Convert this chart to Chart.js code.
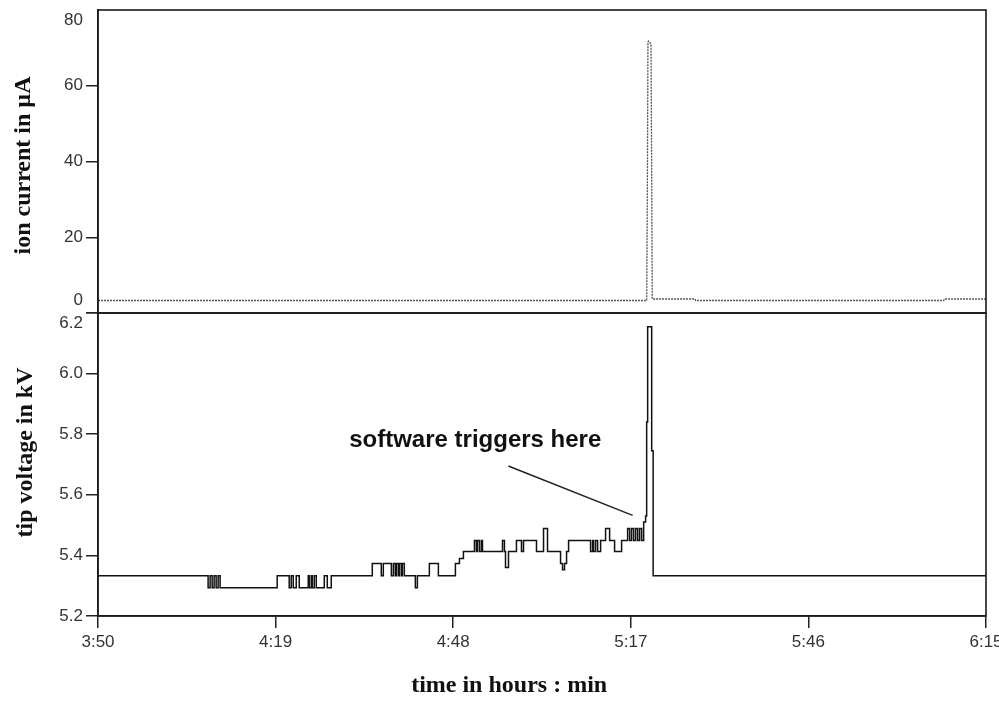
<!DOCTYPE html>
<html>
<head>
<meta charset="utf-8">
<script src="https://cdn.jsdelivr.net/npm/chart.js@4"></script>
<style>
html,body{margin:0;padding:0;background:#fff;}
#wrap{width:999px;height:709px;position:relative;}
</style>
</head>
<body>
<div id="wrap"><canvas id="c"></canvas></div>
<script>
// ---- data (time in minutes after 3:50) ----
const startMinutes = 230; // 3:50
const xTickStep = 29;
const xMax = 145;

const ionTimes   = [0, 89.6, 89.72, 89.8, 89.9, 90.3, 90.4, 90.5, 97.5, 97.6, 138.1, 138.2, 145];
const ionCurrent = [3.3, 3.3, 38, 71.5, 71.8, 71.0, 40, 3.7, 3.7, 3.3, 3.3, 3.7, 3.7];

const tipTimes = [0, 17.98, 18.31, 18.64, 18.96, 19.29, 19.62, 19.94,
  29.26, 31.22, 31.55, 31.88, 32.37, 32.86, 34.33, 34.49, 34.82, 34.98, 35.31, 35.64,
  36.95, 37.44, 38.09, 44.79, 46.26, 46.59, 47.90, 48.23, 48.55, 48.72, 49.04, 49.21,
  49.53, 49.70, 50.02, 51.82, 52.15, 54.11, 55.58, 58.36, 59.02, 59.67, 61.47, 61.79,
  61.96, 62.29, 62.61, 62.78, 66.05, 66.37, 66.54, 67.03, 68.33, 69.15, 69.48, 71.60,
  72.75, 73.40, 75.53, 75.85, 76.18, 76.51, 76.84, 80.43, 80.76, 80.92, 81.25, 81.58,
  82.07, 82.88, 83.54, 84.35, 85.50, 86.48, 86.81, 87.13, 87.46, 87.79, 88.12, 88.44,
  88.77, 89.10, 89.42, 89.59, 89.75, 90.41, 90.65, 145];
const tipVoltage = [5.333, 5.293, 5.333, 5.293, 5.333, 5.293, 5.333, 5.293,
  5.333, 5.293, 5.333, 5.293, 5.333, 5.293, 5.333, 5.293, 5.333, 5.293, 5.333, 5.293,
  5.333, 5.293, 5.333, 5.373, 5.333, 5.373, 5.333, 5.373, 5.333, 5.373, 5.333, 5.373,
  5.333, 5.373, 5.333, 5.293, 5.333, 5.373, 5.333, 5.373, 5.39, 5.413, 5.449, 5.413,
  5.449, 5.413, 5.449, 5.413, 5.449, 5.413, 5.36, 5.413, 5.449, 5.413, 5.449, 5.413,
  5.489, 5.413, 5.373, 5.353, 5.373, 5.413, 5.449, 5.413, 5.449, 5.413, 5.449, 5.413,
  5.449, 5.489, 5.449, 5.413, 5.449, 5.489, 5.449, 5.489, 5.449, 5.489, 5.449, 5.489,
  5.449, 5.51, 5.53, 5.84, 6.155, 5.745, 5.333, 5.333];

const ionTicks = [0, 20, 40, 60, 80];
const tipTicks = [5.2, 5.4, 5.6, 5.8, 6.0, 6.2];

const ionTitle = 'ion current in \u00B5A';
const tipTitle = 'tip voltage in kV';
const xTitle = 'time in hours : min';
const noteText = 'software triggers here';
const noteTextPos = [61.6, 5.781];
const noteLine = [[67.0, 5.695], [87.3, 5.532]];

function fmtTime(v){
  const m = startMinutes + v;
  const h = Math.floor(m/60), mm = Math.round(m - h*60);
  return h + ':' + String(mm).padStart(2,'0');
}

const ionData = ionTimes.map((t,i)=>({x:t, y:ionCurrent[i]}));
const tipData = tipTimes.map((t,i)=>({x:t, y:tipVoltage[i]}));

const tickFont = {family:"'Liberation Sans', Arial, sans-serif", size:17};
const serif = "'Liberation Serif', 'Times New Roman', serif";

const framePlugin = {
  id:'frame',
  afterDraw(chart){
    const ctx = chart.ctx, ca = chart.chartArea;
    const sIon = chart.scales.yIon, sTip = chart.scales.yTip, sx = chart.scales.x;
    ctx.save();
    ctx.strokeStyle = '#1a1a1a';
    ctx.lineWidth = 1.6;
    [sIon, sTip].forEach(s=>{
      ctx.strokeRect(ca.left, s.top, ca.right-ca.left, s.bottom-s.top);
    });
    // y tick labels (end labels kept inside their panel)
    ctx.fillStyle = '#333';
    ctx.font = tickFont.size + 'px ' + tickFont.family;
    ctx.textAlign = 'right';
    ctx.textBaseline = 'middle';
    const drawLabels = (s, ticks, isBottom, dec) => {
      ticks.forEach(v=>{
        let y = s.getPixelForValue(v);
        if (v === s.max) y += 10;
        else if (v === s.min && !isBottom) y -= 13;
        ctx.fillText(dec ? v.toFixed(dec) : String(v), ca.left - 15, y);
      });
    };
    drawLabels(sIon, ionTicks, false, 0);
    drawLabels(sTip, tipTicks, true, 1);
    // axis titles
    ctx.fillStyle = '#111';
    ctx.font = 'bold 24px ' + serif;
    ctx.textAlign = 'center';
    ctx.textBaseline = 'middle';
    ctx.fillText(xTitle, ca.left + (ca.right-ca.left)*0.463, chart.height - 23);
    const vTitle = (txt, x, y) => {
      ctx.save(); ctx.translate(x, y); ctx.rotate(-Math.PI/2); ctx.fillText(txt, 0, 0); ctx.restore();
    };
    vTitle(ionTitle, 24, (sIon.top + sIon.bottom)/2 + 4);
    vTitle(tipTitle, 26, (sTip.top + sTip.bottom)/2 - 12);
    // annotation
    ctx.font = "bold 24px 'Liberation Sans', Arial, sans-serif";
    ctx.fillStyle = '#111';
    ctx.fillText(noteText, sx.getPixelForValue(noteTextPos[0]), sTip.getPixelForValue(noteTextPos[1]));
    ctx.beginPath();
    ctx.lineWidth = 1.5;
    ctx.strokeStyle = '#222';
    ctx.moveTo(sx.getPixelForValue(noteLine[0][0]), sTip.getPixelForValue(noteLine[0][1]));
    ctx.lineTo(sx.getPixelForValue(noteLine[1][0]), sTip.getPixelForValue(noteLine[1][1]));
    ctx.stroke();
    ctx.restore();
  }
};

new Chart(document.getElementById('c'), {
  type:'line',
  data:{
    datasets:[
      {label:'ion current', data:ionData, yAxisID:'yIon', borderColor:'#555', borderWidth:1.3,
       borderDash:[2,1], pointRadius:0, tension:0, fill:false},
      {label:'tip voltage', data:tipData, yAxisID:'yTip', borderColor:'#111', borderWidth:1.5,
       pointRadius:0, stepped:'before', fill:false}
    ]
  },
  options:{
    responsive:true, maintainAspectRatio:false, animation:false,
    layout:{padding:{left:0, right:13, top:10, bottom:0}},
    plugins:{legend:{display:false}, tooltip:{enabled:false}},
    scales:{
      x:{type:'linear', min:0, max:xMax,
         ticks:{stepSize:xTickStep, callback:v=>fmtTime(v), font:tickFont, color:'#333', padding:4, maxRotation:0, autoSkip:false},
         grid:{drawOnChartArea:false, drawTicks:true, tickLength:12, color:'#222', lineWidth:1.5},
         border:{display:true, color:'#222', width:1.6},
         afterFit:s=>{s.height = 93; s.paddingLeft = 0; s.paddingRight = 0;}
      },
      yTip:{type:'linear', position:'left', stack:'panels', stackWeight:1, min:5.2, max:6.2,
         afterBuildTicks:s=>{s.ticks = tipTicks.map(v=>({value:v}));},
         ticks:{display:false},
         grid:{drawOnChartArea:false, drawTicks:true, tickLength:12, lineWidth:1.5, color:'#222'},
         border:{display:true, color:'#222', width:1.6},
         title:{display:false},
         afterFit:s=>{s.width = 98;}
      },
      yIon:{type:'linear', position:'left', stack:'panels', stackWeight:1, min:0, max:80,
         afterBuildTicks:s=>{s.ticks = ionTicks.map(v=>({value:v}));},
         ticks:{display:false},
         grid:{drawOnChartArea:false, drawTicks:true, tickLength:12, lineWidth:1.5,
               tickColor:ctx=> (ctx.tick && ctx.tick.value===80) ? 'rgba(0,0,0,0)' : '#222', color:'#222'},
         border:{display:true, color:'#222', width:1.6},
         title:{display:false},
         afterFit:s=>{s.width = 98;}
      }
    }
  },
  plugins:[framePlugin]
});
</script>
</body>
</html>
